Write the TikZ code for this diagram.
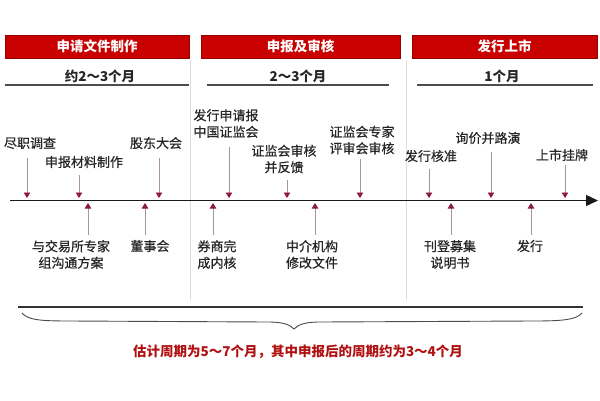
\documentclass[tikz,border=0pt]{standalone}
\usepackage{fontspec}
\setmainfont{Noto Sans CJK SC}
\newfontfamily\lblfont{Noto Sans CJK SC}[FakeBold=0.6]
\usetikzlibrary{arrows.meta}
\definecolor{hdr}{HTML}{C80000}
\definecolor{tipc}{HTML}{8E1B3C}
\definecolor{stem}{HTML}{A8949C}
\definecolor{sep}{HTML}{DDDDDD}
\definecolor{note}{HTML}{B01212}
\begin{document}
\begin{tikzpicture}[x=1pt,y=-1pt,
  hdrbox/.style={fill=hdr, draw=hdr!75!black, line width=0.6pt, minimum height=23pt, inner sep=0pt, text=white, font=\fontsize{13.5}{14}\selectfont\bfseries},
  monthlbl/.style={font=\fontsize{13.5}{14}\selectfont\bfseries, inner sep=0pt, text=black!85},
  lbl/.style={font=\lblfont\fontsize{13}{16.5}\selectfont, align=center, inner sep=0pt, text=black!85},
  ptr/.style={draw=stem, line width=0.9pt, -{Triangle[width=6.5pt,length=5.5pt,color=tipc]}},
  uline/.style={draw=black!70, line width=1.8pt},
  sepline/.style={draw=sep, line width=1pt}
]
\useasboundingbox (0,0) rectangle (600,400);

% header bars
\node[hdrbox, minimum width=184pt] (h1) at (97,46.5) {申请文件制作};
\node[hdrbox, minimum width=199pt] (h2) at (300.5,46.5) {申报及审核};
\node[hdrbox, minimum width=185pt] (h3) at (504.5,46.5) {发行上市};

% durations
\node[monthlbl] (m1) at (100,76) {约2～3个月};
\node[monthlbl] (m2) at (298,76) {2～3个月};
\node[monthlbl] (m3) at (502,76) {1个月};
\draw[uline] (h1.south west |- 0,85) -- (h1.south east |- 0,85);
\draw[uline] (207,85) -- (389,85);
\draw[uline] (417,85) -- (593,85);

% separators
\draw[sepline] (190.5,60) -- (190.5,300);
\draw[sepline] (406,60) -- (406,300);

% timeline
\coordinate (tl0) at (10,200.5);
\coordinate (tl1) at (598,200.5);
\draw[black!90, line width=1.4pt, -{Triangle[width=11pt,length=12pt]}] (tl0) -- (tl1);

% top labels (events above line)
\node[lbl] (a1) at (30,143) {尽职调查};
\node[lbl] (a2) at (84,162) {申报材料制作};
\node[lbl] (a3) at (156,143) {股东大会};
\node[lbl] (a4) at (226,123.5) {发行申请报\\中国证监会};
\node[lbl] (a5) at (284,159) {证监会审核\\并反馈};
\node[lbl] (a6) at (362,140) {证监会专家\\评审会审核};
\node[lbl] (a7) at (431,156) {发行核准};
\node[lbl] (a8) at (488,138) {询价并路演};
\node[lbl] (a9) at (562,155) {上市挂牌};

\coordinate (p1) at (27,198);
\coordinate (p2) at (79,198);
\coordinate (p3) at (159,198);
\coordinate (p4) at (229,198);
\coordinate (p5) at (287,198);
\coordinate (p6) at (360,198);
\coordinate (p7) at (429,198);
\coordinate (p8) at (491,198);
\coordinate (p9) at (565,198);

\draw[ptr] ([yshift=-9pt]a1.south -| p1) -- (p1);
\draw[ptr] ([yshift=-7pt]a2.south -| p2) -- (p2);
\draw[ptr] ([yshift=-9pt]a3.south -| p3) -- (p3);
\draw[ptr] ([yshift=-9pt]a4.south -| p4) -- (p4);
\draw[ptr] ([yshift=-6pt]a5.south -| p5) -- (p5);
\draw[ptr] ([yshift=-5pt]a6.south -| p6) -- (p6);
\draw[ptr] ([yshift=-7pt]a7.south -| p7) -- (p7);
\draw[ptr] ([yshift=-8pt]a8.south -| p8) -- (p8);
\draw[ptr] ([yshift=-4pt]a9.south -| p9) -- (p9);

% bottom labels (events below line)
\node[lbl] (b1) at (71,254.5) {与交易所专家\\组沟通方案};
\node[lbl] (b2) at (150,246) {董事会};
\node[lbl] (b3) at (217,254.5) {券商完\\成内核};
\node[lbl] (b4) at (312,254.5) {中介机构\\修改文件};
\node[lbl] (b5) at (450,254.5) {刊登募集\\说明书};
\node[lbl] (b6) at (530,246) {发行};

\coordinate (q1) at (88,203);
\coordinate (q2) at (145,203);
\coordinate (q3) at (213,203);
\coordinate (q4) at (315,203);
\coordinate (q5) at (451,203);
\coordinate (q6) at (531,203);

\draw[ptr] ([yshift=5pt]b1.north -| q1) -- (q1);
\draw[ptr] ([yshift=5pt]b2.north -| q2) -- (q2);
\draw[ptr] ([yshift=5pt]b3.north -| q3) -- (q3);
\draw[ptr] ([yshift=5pt]b4.north -| q4) -- (q4);
\draw[ptr] ([yshift=5pt]b5.north -| q5) -- (q5);
\draw[ptr] ([yshift=5pt]b6.north -| q6) -- (q6);

% total span line and brace
\draw[black!80, line width=1.3pt] (18,307) -- (583,307);
\draw[black!70, line width=0.9pt]
  (22,313) .. controls (28,320) and (40,321) .. (70,321)
  -- (268,322) .. controls (284,322) and (290,325) .. (294,329)
  .. controls (298,325) and (304,322) .. (320,322)
  -- (532,321) .. controls (562,321) and (576,320) .. (582,313);

\node[font=\fontsize{13.5}{14}\selectfont\bfseries, text=note, inner sep=0pt] (sum) at (298,352)
  {估计周期为5～7个月，其中申报后的周期约为3～4个月};
\end{tikzpicture}
\end{document}
